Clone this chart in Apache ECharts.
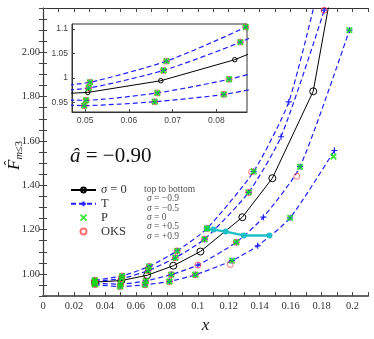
<!DOCTYPE html>
<html><head><meta charset="utf-8">
<script src="https://cdn.jsdelivr.net/npm/echarts@6/dist/echarts.min.js"></script>
<style>html,body{margin:0;padding:0;background:#fff}#c{width:374px;height:339px}</style>
</head><body><div id="c"></div>
<script>
// ---------------- data ----------------
const sigmaLabels = ['−0.9', '−0.5', '0', '+0.5', '+0.9'];

// T (blue dashed, "+") curves per sigma
const tM09X = [0.0335, 0.0511, 0.0686, 0.0867, 0.1060, 0.1361, 0.1588, 0.1800];
const tM09Y = [0.972, 0.991, 1.034, 1.104, 1.205, 1.462, 1.776, 2.350];
const tM05X = [0.0335, 0.0508, 0.0679, 0.0855, 0.1044, 0.1329, 0.1538, 0.1817, 0.1860];
const tM05Y = [0.967, 0.979, 1.015, 1.073, 1.157, 1.368, 1.619, 2.190, 2.330];
const tP05X = [0.0335, 0.0502, 0.0665, 0.0829, 0.1001, 0.1249, 0.1424, 0.1661, 0.1980];
const tP05Y = [0.957, 0.954, 0.969, 0.997, 1.040, 1.143, 1.256, 1.484, 2.100];
const tP09X = [0.0335, 0.0498, 0.0659, 0.0817, 0.0984, 0.1221, 0.1387, 0.1597, 0.1883];
const tP09Y = [0.952, 0.943, 0.951, 0.966, 0.996, 1.060, 1.127, 1.253, 1.557];

// sigma = 0 (black solid, circles)
const s0X = [0.0335, 0.0506, 0.0673, 0.0842, 0.1017, 0.1288, 0.1482, 0.1746, 0.1900];
const s0Y = [0.963, 0.970, 0.994, 1.037, 1.101, 1.256, 1.432, 1.824, 2.420];

// P (green x)
const pX = [0.0335, 0.0511, 0.0686, 0.0867, 0.1060, 0.1361,
            0.0335, 0.0508, 0.0679, 0.0855, 0.1044, 0.1329,
            0.0335, 0.0502, 0.0665, 0.0829, 0.1249, 0.1661, 0.1980,
            0.0335, 0.0498, 0.0659, 0.0817, 0.0984, 0.1221, 0.1597, 0.1877];
const pY = [0.972, 0.991, 1.034, 1.104, 1.205, 1.462,
            0.967, 0.979, 1.015, 1.073, 1.157, 1.368,
            0.957, 0.954, 0.969, 0.997, 1.143, 1.484, 2.100,
            0.952, 0.943, 0.951, 0.966, 0.996, 1.060, 1.253, 1.530];

// OKS (red open circles)
const oX = [0.0335, 0.0511, 0.0686, 0.0867, 0.1060, 0.1348,
            0.0335, 0.0508, 0.0679, 0.0855, 0.1044, 0.1329, 0.1817,
            0.0335, 0.0502, 0.0665, 0.0829, 0.1001, 0.1249, 0.1640,
            0.0335, 0.0498, 0.0659, 0.0817, 0.0984, 0.1210];
const oY = [0.972, 0.991, 1.034, 1.104, 1.205, 1.461,
            0.967, 0.979, 1.015, 1.073, 1.157, 1.368, 2.190,
            0.957, 0.954, 0.969, 0.997, 1.040, 1.143, 1.441,
            0.952, 0.943, 0.951, 0.966, 0.996, 1.043];

// cyan path
const cX = [0.1060, 0.1102, 0.1180, 0.1297, 0.1463];
const cY = [1.205, 1.200, 1.191, 1.174, 1.174];

// tick labels
const xLabelVals = [0, 0.02, 0.04, 0.06, 0.08, 0.1, 0.12, 0.14, 0.16, 0.18, 0.2];
const yLabelVals = [1.0, 1.2, 1.4, 1.6, 1.8, 2.0];
const insetXLabelVals = [0.05, 0.06, 0.07, 0.08];
const insetYLabelVals = [0.95, 1.0, 1.05, 1.1];

// ---------------- chart ----------------
const SERIF = "'Liberation Serif','DejaVu Serif',serif";
const SANS = "'Liberation Sans','DejaVu Sans',sans-serif";
const PLUS = 'path://M0,5L10,5M5,0L5,10';
const CROSS = 'path://M1,1L9,9M9,1L1,9';
const BLUE = '#1f1fff', GREEN = '#10e010', RED = '#ff4d4d', CYAN = '#1fbdc5';
const zip = (xs, ys) => xs.map((x, i) => [x, ys[i]]);

function buildSeries(xi, yi, inset) {
  const out = [];
  [[tM09X, tM09Y], [tM05X, tM05Y], [tP05X, tP05Y], [tP09X, tP09Y]].forEach(([xs, ys]) => {
    out.push({
      type: 'line', name: 'T', xAxisIndex: xi, yAxisIndex: yi, data: zip(xs, ys),
      smooth: 0.2, symbol: PLUS, symbolSize: inset ? 5 : 6, clip: true, z: inset ? 12 : 2,
      lineStyle: { color: BLUE, width: 1.2, type: [5, 3] },
      itemStyle: { color: BLUE, borderColor: BLUE, borderWidth: 1.2 }
    });
  });
  out.push({
    type: 'line', name: 'σ = 0', xAxisIndex: xi, yAxisIndex: yi, data: zip(s0X, s0Y),
    symbol: 'circle', symbolSize: inset ? 4.5 : 7, clip: true, z: inset ? 13 : 3,
    lineStyle: { color: '#000', width: 1 },
    itemStyle: { color: 'rgba(0,0,0,0)', borderColor: '#000', borderWidth: 1 }
  });
  out.push({
    type: 'scatter', name: 'OKS', xAxisIndex: xi, yAxisIndex: yi, data: zip(oX, oY),
    symbol: 'circle', symbolSize: 6, clip: true, z: inset ? 14 : 4,
    itemStyle: { color: 'rgba(0,0,0,0)', borderColor: RED, borderWidth: 1 }
  });
  if (!inset) {
    out.push({
      type: 'line', name: 'path', xAxisIndex: xi, yAxisIndex: yi, data: zip(cX, cY),
      symbol: 'circle', symbolSize: 6, clip: true, z: 5,
      lineStyle: { color: CYAN, width: 2.5 },
      itemStyle: { color: CYAN }
    });
  }
  out.push({
    type: 'scatter', name: 'P', xAxisIndex: xi, yAxisIndex: yi, data: zip(pX, pY),
    symbol: CROSS, symbolSize: 5.5, clip: true, z: inset ? 16 : 6,
    itemStyle: { color: GREEN, borderColor: GREEN, borderWidth: 2 }
  });
  return out;
}

const tickCommon = { inside: true, length: 4, lineStyle: { color: '#444', width: 1 } };

const graphics = [
  {
    type: 'text', x: 70, y: 156,
    style: { text: '{i|â} = −0.90', fontFamily: SERIF, fontSize: 21, fill: '#111', verticalAlign: 'middle',
      rich: { i: { fontStyle: 'italic', fontFamily: SERIF, fontSize: 21, fill: '#111' } } }
  },
  {
    type: 'group', x: 23, y: 170, rotation: Math.PI / 2,
    children: [
      { type: 'text', x: 0, y: 0, style: { text: 'F', fontFamily: SERIF, fontStyle: 'italic', fontSize: 17, fill: '#111', align: 'left', verticalAlign: 'bottom' } },
      { type: 'text', x: 7, y: -13, style: { text: 'ˆ', fontFamily: SERIF, fontSize: 15, fill: '#111', align: 'center', verticalAlign: 'middle' } },
      { type: 'text', x: 10.5, y: 2, style: { text: '{i|m}≤3', fontFamily: SERIF, fontSize: 10.5, fill: '#111', align: 'left', verticalAlign: 'bottom',
        rich: { i: { fontStyle: 'italic', fontFamily: SERIF, fontSize: 10.5, fill: '#111' } } } }
    ]
  },
  { type: 'text', x: 144, y: 189.3, style: { text: 'top to bottom', fontFamily: SERIF, fontSize: 9.5, fill: '#555', verticalAlign: 'middle' } }
];
sigmaLabels.forEach((s, i) => {
  graphics.push({ type: 'text', x: 147, y: 198.7 + i * 9.4,
    style: { text: '{i|σ} = ' + s, fontFamily: SERIF, fontSize: 9.5, fill: '#555', verticalAlign: 'middle',
      rich: { i: { fontStyle: 'italic', fontFamily: SERIF, fontSize: 9.5, fill: '#555' } } } });
});

const option = {
  animation: false,
  backgroundColor: '#fff',
  grid: [
    { left: 43, top: 8, right: 6, bottom: 23 },
    { left: 72, top: 24, width: 175, height: 88, show: true, backgroundColor: '#fff', borderColor: '#333', borderWidth: 1, z: 10 }
  ],
  legend: {
    data: ['σ = 0', 'T', 'P', 'OKS'], orient: 'vertical', left: 70, top: 183.5, padding: 0,
    itemWidth: 25, itemHeight: 6, itemGap: 0.8, selectedMode: false,
    formatter: n => n === 'σ = 0' ? '{i|σ} = 0' : n,
    textStyle: { fontFamily: SERIF, fontSize: 12.5, color: '#333', lineHeight: 12.5,
      rich: { i: { fontStyle: 'italic', fontFamily: SERIF, fontSize: 12.5, color: '#333' } } }
  },
  xAxis: [
    { type: 'value', gridIndex: 0, min: 0, max: 0.21, interval: 0.01, position: 'bottom',
      axisLine: { show: true, lineStyle: { color: '#666', width: 2 } },
      axisTick: tickCommon, splitLine: { show: false },
      axisLabel: { customValues: xLabelVals, formatter: v => String(+v.toFixed(2)), fontFamily: SERIF, fontSize: 10.5, color: '#333', margin: 5 },
      name: 'x', nameLocation: 'middle', nameGap: 14,
      nameTextStyle: { fontFamily: SERIF, fontStyle: 'italic', fontSize: 17, color: '#111' } },
    { type: 'value', gridIndex: 0, min: 0, max: 0.21, interval: 0.01, position: 'top',
      axisLine: { show: true, lineStyle: { color: '#333', width: 1 } },
      axisTick: tickCommon, axisLabel: { show: false }, splitLine: { show: false } },
    { type: 'value', gridIndex: 1, min: 0.047, max: 0.087,
      axisLine: { show: true, lineStyle: { color: '#333', width: 1 } },
      axisTick: { inside: true, length: 3, customValues: insetXLabelVals, lineStyle: { color: '#444' } },
      axisLabel: { customValues: insetXLabelVals, formatter: v => String(+v.toFixed(2)), fontFamily: SANS, fontSize: 8.5, color: '#444', margin: 4 },
      splitLine: { show: false }, z: 11 }
  ],
  yAxis: [
    { type: 'value', gridIndex: 0, min: 0.9, max: 2.2, interval: 0.05, position: 'left',
      axisLine: { show: true, lineStyle: { color: '#444', width: 1.2 } },
      axisTick: tickCommon, splitLine: { show: false },
      axisLabel: { customValues: yLabelVals, formatter: v => v.toFixed(2), fontFamily: SERIF, fontSize: 10.5, color: '#333', margin: 3 } },
    { type: 'value', gridIndex: 0, min: 0.9, max: 2.2, interval: 0.05, position: 'right',
      axisLine: { show: true, lineStyle: { color: '#333', width: 1 } },
      axisTick: tickCommon, axisLabel: { show: false }, splitLine: { show: false } },
    { type: 'value', gridIndex: 1, min: 0.93, max: 1.11,
      axisLine: { show: true, lineStyle: { color: '#333', width: 1 } },
      axisTick: { inside: true, length: 3, customValues: insetYLabelVals, lineStyle: { color: '#444' } },
      axisLabel: { customValues: insetYLabelVals, formatter: v => String(+v.toFixed(2)), fontFamily: SANS, fontSize: 8.5, color: '#444', margin: 4 },
      splitLine: { show: false }, z: 11 }
  ],
  graphic: graphics,
  series: [].concat(buildSeries(0, 0, false), buildSeries(2, 2, true))
};

const chart = echarts.init(document.getElementById('c'), null, { renderer: 'canvas' });
chart.setOption(option);
</script>
</body></html>
